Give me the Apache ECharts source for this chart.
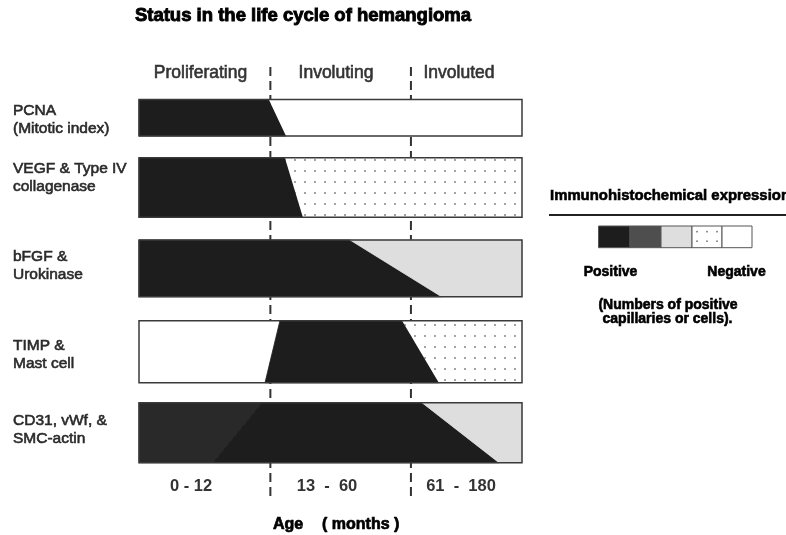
<!DOCTYPE html>
<html><head><meta charset="utf-8">
<script src="https://cdn.jsdelivr.net/npm/echarts@6/dist/echarts.min.js"></script>
<style>html,body{margin:0;padding:0;background:#fff}#c{width:786px;height:535px}</style>
</head><body><div id="c"></div>
<script>
// ---------- DATA (positions along each bar, % of the bar length) ----------
const rowLabels = ['PCNA\n(Mitotic index)', 'VEGF & Type IV\ncollagenase', 'bFGF &\nUrokinase', 'TIMP &\nMast cell', 'CD31, vWf, &\nSMC-actin'];
const phaseLabels = ['Proliferating', 'Involuting', 'Involuted'];
const ageLabels = ['0 - 12', '13  -  60', '61  -  180'];
const phaseBreaks = [34.3, 71.0];
// transition points on the top edge and bottom edge of each bar
const breaksTop    = [[33.9], [38.1], [55.1], [36.8, 68.7], [32.1, 73.9]];
const breaksBottom = [[38.4], [42.8], [79.0], [32.9, 78.3], [19.3, 94.0]];
const rowFills = [['dark', 'white'], ['dark', 'dots'], ['dark', 'light'], ['white', 'dark', 'dots'], ['mid', 'dark', 'light']];
const legendKeys = ['dark', 'legendMid', 'light', 'dots', 'white'];

// ---------- LAYOUT ----------
const GRID = {left: 139, top: 99, width: 383, height: 364};
const ROW_BANDS = [[0.5, 37], [58.7, 118.3], [141, 197.7], [221.7, 283.7], [303.7, 363.7]];
const FONT = '"Liberation Sans", Arial, Helvetica, sans-serif';

function dotCanvas() {
  const c = document.createElement('canvas');
  c.width = 10; c.height = 11;
  const g = c.getContext('2d');
  g.fillStyle = '#fff'; g.fillRect(0, 0, 10, 11);
  g.fillStyle = '#7a7a7a';
  g.beginPath(); g.arc(5, 6, 0.9, 0, Math.PI * 2); g.fill();
  return c;
}
const FILLS = {
  dark: '#1d1d1d',
  mid: '#292929',
  legendMid: '#4e4e4e',
  light: '#dedede',
  white: '#ffffff',
  dots: {type: 'pattern', image: dotCanvas(), repeat: 'repeat'}
};

// build segments from the data arrays
const segments = [];
rowFills.forEach((fills, r) => {
  const tops = [0].concat(breaksTop[r], [100]);
  const bots = [0].concat(breaksBottom[r], [100]);
  fills.forEach((f, j) => {
    segments.push({value: [r, tops[j], tops[j + 1], bots[j], bots[j + 1]], fill: f});
  });
});

const chart = echarts.init(document.getElementById('c'), null, {renderer: 'canvas'});

const graphics = [];
function txt(x, y, text, size, weight, color, align, extra) {
  graphics.push({type: 'text', x: x, y: y, silent: true, style: Object.assign({
    text: text, font: weight + ' ' + size + 'px ' + FONT, fill: color,
    align: align || 'left', verticalAlign: 'middle'
  }, extra || {})});
}
// title
txt(303, 16, 'Status in the life cycle of hemangioma', 18.5, 'bold', '#000', 'center', {stroke: '#000', lineWidth: 0.9});
// phase labels
const phaseX = [200.5, 336, 459];
phaseLabels.forEach((t, i) => txt(phaseX[i], 73.5, t, 17.5, 'normal', '#333', 'center', {stroke: '#333', lineWidth: 0.6}));
// row labels
const rowLabelY = [120, 177.5, 265.5, 354.5, 430];
rowLabels.forEach((t, i) => txt(13, rowLabelY[i], t, 15.5, 'normal', '#2a2a2a', 'left', {lineHeight: 18, stroke: '#2a2a2a', lineWidth: 0.6}));
// age labels
const ageX = [191, 327, 461];
ageLabels.forEach((t, i) => txt(ageX[i], 486.5, t, 16.5, 'bold', '#333', 'center'));
txt(273, 525, 'Age', 16, 'bold', '#000', 'left', {stroke: '#000', lineWidth: 0.7});
txt(322, 525, '( months )', 16, 'bold', '#000', 'left', {stroke: '#000', lineWidth: 0.7});
// legend
txt(550, 195.5, 'Immunohistochemical expression', 14.9, 'bold', '#000', 'left', {stroke: '#000', lineWidth: 0.6});
graphics.push({type: 'line', silent: true, shape: {x1: 549, y1: 215, x2: 786, y2: 215}, style: {stroke: '#222', lineWidth: 2}});
const lx = [598.5, 630, 661, 692, 722, 752];
legendKeys.forEach((k, i) => {
  graphics.push({type: 'rect', silent: true, shape: {x: lx[i], y: 226, width: lx[i + 1] - lx[i], height: 21.7},
    style: {fill: k === 'dots' ? '#fff' : FILLS[k], stroke: '#555', lineWidth: 1}});
  if (k === 'dots') {
    [0, 1].forEach(rr => [0, 1, 2].forEach(cc => graphics.push({type: 'circle', silent: true,
      shape: {cx: 697 + cc * 10, cy: 231.7 + rr * 9.5, r: 0.9}, style: {fill: '#777'}})));
  }
});
txt(610.5, 272, 'Positive', 14, 'bold', '#000', 'center', {stroke: '#000', lineWidth: 0.6});
txt(736.5, 272, 'Negative', 14, 'bold', '#000', 'center', {stroke: '#000', lineWidth: 0.6});
txt(668, 305.5, '(Numbers of positive', 14, 'bold', '#000', 'center', {stroke: '#000', lineWidth: 0.6});
txt(667.5, 319.5, 'capillaries or cells).', 14, 'bold', '#000', 'center', {stroke: '#000', lineWidth: 0.6});

chart.setOption({
  backgroundColor: '#fff',
  animation: false,
  grid: Object.assign({containLabel: false}, GRID),
  xAxis: {type: 'value', min: 0, max: 100, show: false},
  yAxis: {type: 'value', min: 0, max: 364, inverse: true, show: false},
  graphic: graphics,
  series: [
    {
      type: 'custom', z: 1, clip: false, silent: true,
      data: phaseBreaks.map(v => [v]),
      renderItem(params, api) {
        const a = api.coord([api.value(0), -32]);
        const b = api.coord([api.value(0), 398]);
        return {type: 'line', shape: {x1: a[0], y1: a[1], x2: b[0], y2: b[1]},
          style: {stroke: '#333', lineWidth: 2, lineDash: [9, 5]}};
      }
    },
    {
      type: 'custom', z: 2, clip: false, silent: true,
      data: segments.map(s => s.value),
      renderItem(params, api) {
        const r = api.value(0);
        const band = ROW_BANDS[r];
        const p1 = api.coord([api.value(1), band[0]]);
        const p2 = api.coord([api.value(2), band[0]]);
        const p3 = api.coord([api.value(4), band[1]]);
        const p4 = api.coord([api.value(3), band[1]]);
        const key = segments[params.dataIndex].fill;
        const f = FILLS[key];
        const solid = typeof f === 'string';
        return {type: 'polygon', shape: {points: [p1, p2, p3, p4]},
          style: {fill: f, stroke: solid && key !== 'white' ? f : null, lineWidth: 0.8}};
      }
    },
    {
      type: 'custom', z: 3, clip: false, silent: true,
      data: rowLabels.map((l, i) => [i]),
      renderItem(params, api) {
        const band = ROW_BANDS[api.value(0)];
        const a = api.coord([0, band[0]]);
        const b = api.coord([100, band[1]]);
        return {type: 'rect', shape: {x: a[0], y: a[1], width: b[0] - a[0], height: b[1] - a[1]},
          style: {fill: null, stroke: '#3a3a3a', lineWidth: 1.5}};
      }
    }
  ]
});
</script></body></html>
